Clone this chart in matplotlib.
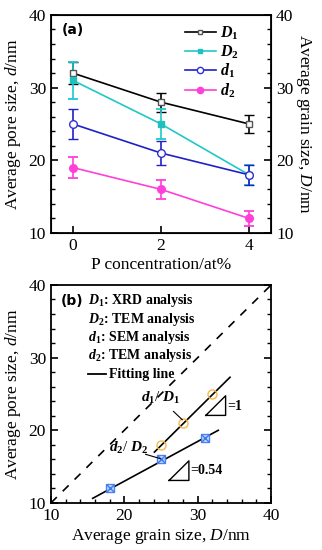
import matplotlib
matplotlib.use("Agg")
import matplotlib.pyplot as plt
from matplotlib.ticker import MultipleLocator
from matplotlib.lines import Line2D

plt.rcParams['font.family'] = ['Liberation Serif', 'DejaVu Serif']
plt.rcParams['mathtext.fontset'] = 'custom'
plt.rcParams['mathtext.rm'] = 'Liberation Serif'
plt.rcParams['mathtext.it'] = 'Liberation Serif:italic'
plt.rcParams['mathtext.bf'] = 'Liberation Serif:bold'
plt.rcParams['mathtext.bfit'] = 'Liberation Serif:italic:bold'

# ---- data panel (a)
p_conc = [0, 2, 4]
D1 = [32, 28, 25]
D1_err = [1.5, 1.3, 1.2]
D2 = [31, 25, 18]
D2_err = [2.5, 2.0, 1.4]
d1 = [25, 21, 18]
d1_err = [2.0, 1.7, 1.4]
d2 = [19, 16, 12]
d2_err = [1.5, 1.3, 1.0]

# ---- data panel (b)
grain_D1 = [25, 28, 32]
pore_d1 = [18, 21, 25]
grain_D2 = [18, 25, 31]
pore_d2 = [12, 16, 19]
fit1_x = [24.1, 34.4]
fit1_y = [17.0, 27.3]
fit2_x = [15.7, 32.8]
fit2_y = [10.64, 20.0]
ref_x = [10, 40]
ref_y = [10, 40]

fig = plt.figure(figsize=(3.22, 5.5), dpi=100)
FS = 12.5

axa = fig.add_axes([0.158, 0.5764, 0.684, 0.3964])
ek = dict(capsize=3.6, capthick=1.3, elinewidth=1.2, lw=1.2)
styles = [
    (D1, D1_err, dict(color='black', marker='s', ms=4.5, mfc='white', mec='#555555', mew=1.0),
     r'$\mathbfit{D}_\mathbf{1}$'),
    (D2, D2_err, dict(color='#20c8c8', marker='s', ms=4.5, mfc='#20c0c0', mec='#20c0c0'),
     r'$\mathbfit{D}_\mathbf{2}$'),
    (d1, d1_err, dict(color='#2020c8', marker='o', ms=5.5, mfc='white', mec='#3030d0', mew=1.0),
     r'$\mathbfit{d}_\mathbf{1}$'),
    (d2, d2_err, dict(color='#ff40d8', marker='o', ms=5.5, mfc='#ff40d8', mec='#ff40d8'),
     r'$\mathbfit{d}_\mathbf{2}$'),
]
handles = []
for vals, err, st, lab in styles:
    axa.errorbar(p_conc, vals, yerr=err, **st, **ek)
    hs = dict(st)
    hs['ms'] = hs['ms'] - 1
    handles.append(Line2D([], [], lw=1.2, label=lab, **hs))
axa.set_xlim(-0.5, 4.5)
axa.set_ylim(10, 40)
axa.set_xticks([0, 2, 4])
axa.yaxis.set_major_locator(MultipleLocator(10))
axa.yaxis.set_minor_locator(MultipleLocator(2))
axa.tick_params(axis='both', direction='in', labelsize=FS, length=5, width=1.2)
axa.tick_params(axis='y', which='minor', direction='in', length=3, width=1.0)
axa.set_xlabel('P concentration/at%', fontsize=FS, labelpad=2)
axa.set_ylabel(r'Average pore size, $\mathit{d}$/nm', fontsize=FS, labelpad=4)
axa.text(0.05, 0.93, '(a)', transform=axa.transAxes, fontsize=10,
         fontweight='bold', family='DejaVu Sans', va='center')
axa.legend(handles=handles, loc='upper right', frameon=False, fontsize=11.5,
           handlelength=1.9, handletextpad=0.3, labelspacing=0.08,
           borderaxespad=0.0, bbox_to_anchor=(0.885, 0.985))
for sp in axa.spines.values():
    sp.set_linewidth(1.3)
axr = axa.twinx()
axr.set_ylim(10, 40)
axr.yaxis.set_major_locator(MultipleLocator(10))
axr.yaxis.set_minor_locator(MultipleLocator(2))
axr.tick_params(axis='y', direction='in', labelsize=FS, length=5, width=1.2)
axr.tick_params(axis='y', which='minor', direction='in', length=3, width=1.0)
axr.set_ylabel(r'Average grain size, $\mathit{D}$/nm', fontsize=FS, rotation=270, labelpad=14)

# ---- panel (b)
axb = fig.add_axes([0.158, 0.0855, 0.684, 0.3964])
axb.plot(ref_x, ref_y, color='black', ls=(0, (5, 5)), lw=1.2)
axb.plot(fit1_x, fit1_y, color='black', lw=1.2)
axb.plot(fit2_x, fit2_y, color='black', lw=1.2)
axb.plot(grain_D1, pore_d1, ls='none', marker='o', ms=6.5, mfc='none',
         mec='#f8b848', mew=1.0)
axb.plot(grain_D2, pore_d2, ls='none', marker='s', ms=6, mfc='#c8dcff',
         mec='#3c78f0', mew=1.0, alpha=0.9)
axb.plot(grain_D2, pore_d2, ls='none', marker='x', ms=5.5, mec='#3c78f0', mew=1.0)
axb.set_xlim(10, 40)
axb.set_ylim(10, 40)
axb.xaxis.set_major_locator(MultipleLocator(10))
axb.xaxis.set_minor_locator(MultipleLocator(2))
axb.yaxis.set_major_locator(MultipleLocator(10))
axb.yaxis.set_minor_locator(MultipleLocator(2))
axb.tick_params(axis='both', direction='in', labelsize=FS, length=5, width=1.2, right=True)
axb.tick_params(axis='both', which='minor', direction='in', length=3, width=1.0, right=True)
axb.set_xlabel(r'Average grain size, $\mathit{D}$/nm', fontsize=FS, labelpad=2)
axb.set_ylabel(r'Average pore size, $\mathit{d}$/nm', fontsize=FS, labelpad=4)
for sp in axb.spines.values():
    sp.set_linewidth(1.3)

TS = 10
axb.text(11.4, 37.8, '(b)', fontsize=10, fontweight='bold', family='DejaVu Sans', va='center')
leg_lines = [r'$\mathbfit{D}_\mathbf{1}$: XRD analysis',
             r'$\mathbfit{D}_\mathbf{2}$: TEM analysis',
             r'$\mathbfit{d}_\mathbf{1}$: SEM analysis',
             r'$\mathbfit{d}_\mathbf{2}$: TEM analysis']
ys = [37.8, 35.3, 32.8, 30.3]
for t, y in zip(leg_lines, ys):
    axb.text(15.1, y, t, fontsize=TS, fontweight='bold', va='center')
axb.plot([15.1, 17.5], [27.7, 27.7], color='black', lw=1.3)
axb.text(17.9, 27.7, 'Fitting line', fontsize=TS, fontweight='bold', va='center')

# slope triangles
axb.plot([31.1, 33.8, 33.8, 31.1], [22.05, 22.05, 24.75, 22.05], color='black', lw=1.0)
axb.text(34.0, 23.3, '=1', fontsize=TS, fontweight='bold', va='center')
axb.plot([26.1, 28.8, 28.8, 26.1], [13.1, 13.1, 15.8, 13.1], color='black', lw=1.0)
axb.text(29.0, 14.4, '=0.54', fontsize=TS, fontweight='bold', va='center')

axb.text(25.0, 24.4, r'$\mathbfit{d}_\mathbf{1}$/ $\mathbfit{D}_\mathbf{1}$', fontsize=11,
         ha='center', va='center')
axb.plot([26.7, 27.9], [22.6, 21.45], color='black', lw=0.8)
axb.text(20.6, 17.6, r'$\mathbfit{d}_\mathbf{2}$/ $\mathbfit{D}_\mathbf{2}$', fontsize=11,
         ha='center', va='center')
axb.plot([22.9, 24.9], [16.7, 16.1], color='black', lw=0.8)

fig.savefig('out.png', dpi=100)
